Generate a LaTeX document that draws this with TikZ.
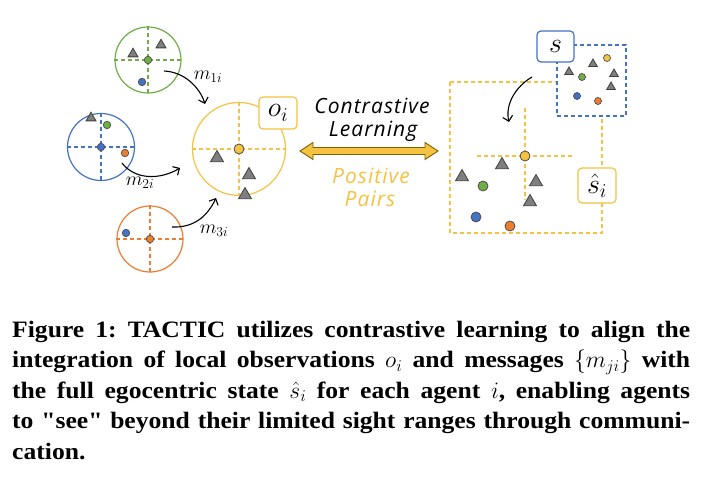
\RequirePackage{fix-cm}
\documentclass[tikz,border=0pt]{standalone}
\usepackage{fontspec}
\setmainfont{Liberation Serif}
\newfontfamily\capfont{Liberation Serif}[FakeStretch=1.09]
\newfontfamily\handfont{Open Sans}[LetterSpace=5]
\usetikzlibrary{shapes.geometric,arrows.meta,calc}
\definecolor{cyel}{HTML}{F5C342}
\definecolor{cgreen}{HTML}{70AD47}
\definecolor{cblue}{HTML}{4472C4}
\definecolor{corange}{HTML}{ED7D31}
\definecolor{trifill}{HTML}{7F7F7F}
\definecolor{triedge}{HTML}{3F3F3F}
\definecolor{arrowedge}{HTML}{7F6000}
\tikzset{
  x=1pt, y=-1pt,
  obs/.style={circle, draw=#1, line width=1.2pt, inner sep=0pt},
  crossln/.style={draw=#1, line width=1.2pt, dash pattern=on 4pt off 3pt},
  tri/.style={regular polygon, regular polygon sides=3, draw=triedge, fill=trifill, minimum size=#1, inner sep=0pt, line width=0.8pt},
  dot/.style={circle, fill=#1, draw=black!70, line width=0.7pt, minimum size=7.5pt, inner sep=0pt},
  bigdot/.style={circle, fill=#1, draw=black!70, line width=0.8pt, minimum size=10pt, inner sep=0pt},
  msg/.style={line width=1.1pt, -{Straight Barb[length=5pt,width=10pt]}},
  lbl/.style={rounded corners=4pt, line width=1.2pt, fill=white, inner sep=0pt},
  mlab/.style={font=\fontsize{19.5}{22}\selectfont, inner sep=0pt},
  hand/.style={font=\handfont\itshape\fontsize{21}{24}\selectfont, inner sep=0pt},
  capline/.style={anchor=base west, inner sep=0pt, font=\capfont\bfseries\frenchspacing\fontsize{23.5}{27}\selectfont},
}
\begin{document}
\begin{tikzpicture}
\useasboundingbox (0,0) rectangle (714,486);
\fill[white] (0,0) rectangle (714,486);

% green agent
\node[obs=cgreen, minimum size=66pt] (gc) at (148,60) {};
\draw[crossln=cgreen] (gc.north) -- (gc.south) (gc.west) -- (gc.east);
\node[tri=11.5pt] (gt1) at (133,54) {};
\node[tri=11.5pt] (gt2) at (161,45) {};
\node[dot=cblue] (gd1) at (142,82) {};
\node[dot=cgreen] (gd0) at (148,60) {};

% blue agent
\node[obs=cblue, minimum size=67pt] (bc) at (101,147) {};
\draw[crossln=cblue] (bc.north) -- (bc.south) (bc.west) -- (bc.east);
\node[tri=11.5pt] (bt1) at (91,118) {};
\node[dot=cgreen] (bd1) at (107,125) {};
\node[dot=corange] (bd2) at (125,153) {};
\node[dot=cblue] (bd0) at (101,147) {};

% orange agent
\node[obs=corange, minimum size=66pt] (oc) at (150,239) {};
\draw[crossln=corange] (oc.north) -- (oc.south) (oc.west) -- (oc.east);
\node[dot=cblue] (od1) at (126,233) {};
\node[dot=corange] (od0) at (150,239) {};

% agent i
\node[obs=cyel, minimum size=93pt] (yc) at (239,149) {};
\draw[crossln=cyel] (yc.north) -- (yc.south) (yc.west) -- (yc.east);
\node[tri=15pt] (yt1) at (217,158) {};
\node[tri=15pt] (yt2) at (249,175) {};
\node[tri=15pt] (yt3) at (245,195) {};
\node[bigdot=cyel] (yd0) at (239,149) {};
\node[lbl, draw=cyel, minimum width=38pt, minimum height=32pt] (oi) at (278,113) {\fontsize{28}{30}\selectfont$o_i$};

% messages
\coordinate (m1s) at (164,71);  \coordinate (m1e) at (205,104);
\coordinate (m2s) at (122,163); \coordinate (m2e) at (180,168);
\coordinate (m3s) at (172,227); \coordinate (m3e) at (216,198);
\draw[msg] (m1s) .. controls (185,72) and (200,88) .. (m1e);
\draw[msg] (m2s) .. controls (135,180) and (160,180) .. (m2e);
\draw[msg] (m3s) .. controls (195,228) and (208,215) .. (m3e);
\node[mlab] (l1) at (208,77) {$m_{1i}$};
\node[mlab] (l2) at (140,183) {$m_{2i}$};
\node[mlab] (l3) at (214,231) {$m_{3i}$};

% contrastive learning
\node[hand] (t1) at (372,106) {Contrastive};
\node[hand] (t2) at (373,131) {Learning};
\node[hand, text=cyel] (t3) at (371,176) {Positive};
\node[hand, text=cyel] (t4) at (370,199) {Pairs};
\coordinate (al) at (300,151);
\coordinate (ar) at (438,151);
\filldraw[fill=cyel, draw=arrowedge, line width=0.9pt, line join=miter]
  (al) -- ++(13,-8.5) -- ++(0,5) -- ($(ar)+(-13,-3.5)$) -- ++(0,-5) -- (ar)
  -- ++(-13,8.5) -- ++(0,-5) -- ($(al)+(13,3.5)$) -- ++(0,5) -- cycle;

% full state
\draw[cyel, line width=1.2pt, dash pattern=on 4pt off 3pt] (450,82) rectangle (602,233);
\node[draw=cblue, fill=white, line width=1.2pt, dash pattern=on 4pt off 3pt, minimum width=69pt, minimum height=71pt, inner sep=0pt] (sr) at (591.5,80.5) {};
\node[tri=10pt] (st1) at (569,72) {};
\node[tri=10pt] (st2) at (593,64) {};
\node[tri=10pt] (st3) at (614,74) {};
\node[tri=10pt] (st4) at (611,87) {};
\node[dot=cyel, minimum size=7pt] (sd1) at (607,58) {};
\node[dot=cgreen, minimum size=7pt] (sd2) at (582,77) {};
\node[dot=cblue, minimum size=7pt] (sd3) at (577,96) {};
\node[dot=corange, minimum size=7pt] (sd4) at (598,101) {};
\node[lbl, draw=cblue, minimum width=37pt, minimum height=31pt] (sb) at (555.5,46.5) {\fontsize{28}{30}\selectfont$s$};

\coordinate (hc) at (525,156);
\draw[crossln=cyel] (477,156) -- (573,156) (525,108) -- (525,200);
\node[tri=15pt] (ht1) at (502,165) {};
\node[tri=15pt] (ht2) at (462,177) {};
\node[tri=15pt] (ht3) at (536,182) {};
\node[tri=15pt] (ht4) at (530,202) {};
\node[bigdot=cgreen] (hd1) at (483,186) {};
\node[bigdot=cblue] (hd2) at (476,217) {};
\node[bigdot=corange] (hd3) at (510,226) {};
\node[bigdot=cyel] (hd0) at (hc) {};
\node[lbl, draw=cyel, minimum width=38pt, minimum height=35pt] (sh) at (597,185.5) {\fontsize{28}{30}\selectfont$\hat{s}_i$};

\coordinate (ss) at (532,77); \coordinate (se) at (509,122);
\draw[msg] (ss) .. controls (515,87) and (505,105) .. (se);

% caption
\node[capline] (c1) at (12,337) {\makebox[678pt][s]{Figure 1: TACTIC utilizes contrastive learning to align the}};
\node[capline] (c2) at (12,367.5) {\makebox[678pt][s]{integration of local observations $o_i$ and messages $\{m_{ji}\}$ with}};
\node[capline] (c3) at (12,398) {\makebox[678pt][s]{the full egocentric state $\hat{s}_i$ for each agent $i$, enabling agents}};
\node[capline] (c4) at (12,428.5) {\makebox[678pt][s]{to "see" beyond their limited sight ranges through communi-}};
\node[capline] (c5) at (12,459) {cation.};
\end{tikzpicture}
\end{document}
